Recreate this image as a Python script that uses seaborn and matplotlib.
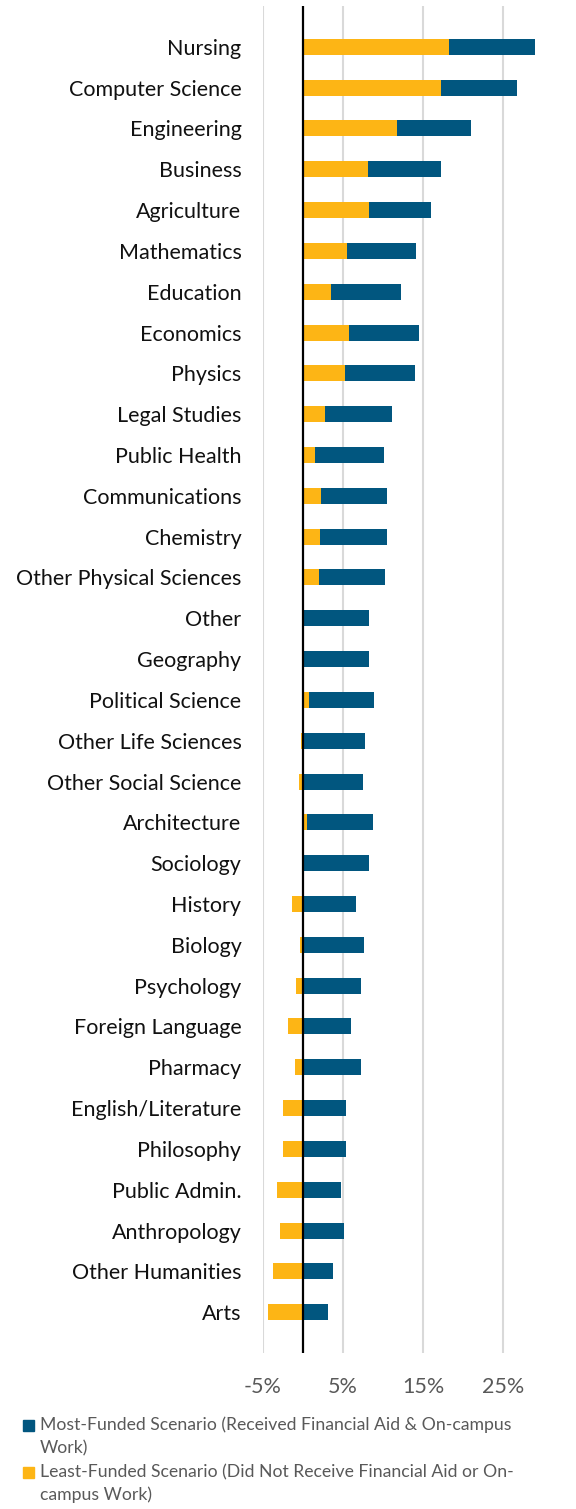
import matplotlib
matplotlib.use("Agg")
import matplotlib.pyplot as plt
import seaborn as sns
import pandas as pd
import numpy as np
from matplotlib.patches import Rectangle

majors = ["Nursing", "Computer Science", "Engineering", "Business", "Agriculture",
          "Mathematics", "Education", "Economics", "Physics", "Legal Studies",
          "Public Health", "Communications", "Chemistry", "Other Physical Sciences",
          "Other", "Geography", "Political Science", "Other Life Sciences",
          "Other Social Science", "Architecture", "Sociology", "History", "Biology",
          "Psychology", "Foreign Language", "Pharmacy", "English/Literature",
          "Philosophy", "Public Admin.", "Anthropology", "Other Humanities", "Arts"]

least_funded = [18.2, 17.2, 11.7, 8.1, 8.2, 5.5, 3.5, 5.8, 5.2, 2.75,
                1.55, 2.3, 2.1, 2.0, 0.0, -0.1, 0.7, -0.2, -0.55, 0.55,
                0.0, -1.35, -0.4, -0.9, -1.9, -0.95, -2.55, -2.55, -3.25, -2.85,
                -3.75, -4.4]

most_funded = [10.85, 9.55, 9.25, 9.15, 7.75, 8.6, 8.8, 8.65, 8.75, 8.35,
               8.55, 8.2, 8.4, 8.3, 8.2, 8.3, 8.15, 7.8, 7.5, 8.25,
               8.3, 6.6, 7.6, 7.2, 6.0, 7.3, 5.35, 5.35, 4.8, 5.1,
               3.8, 3.15]

xticks = [-5, 5, 15, 25]
xtick_labels = ["-5%", "5%", "15%", "25%"]

legend_most = ["Most-Funded Scenario (Received Financial Aid & On-campus", "Work)"]
legend_least = ["Least-Funded Scenario (Did Not Receive Financial Aid or On-", "campus Work)"]

BLUE = "#01567F"
YELLOW = "#FDB515"

df = pd.DataFrame({"major": majors, "least": least_funded, "most": most_funded})
df["stack_end"] = np.maximum(df["least"], 0) + df["most"]

sns.set_style("white")
plt.rcParams["font.family"] = ["Lato", "DejaVu Sans"]

W, H = 576, 1509
fig = plt.figure(figsize=(W / 100, H / 100), dpi=100)
ax = fig.add_axes([263 / W, (H - 1353) / H, 280 / W, 1347 / H])

sns.barplot(data=df, x="stack_end", y="major", order=majors, orient="h",
            color=BLUE, saturation=1, width=0.39, ax=ax, linewidth=0)
sns.barplot(data=df, x="least", y="major", order=majors, orient="h",
            color=YELLOW, saturation=1, width=0.39, ax=ax, linewidth=0)

ax.set_xlim(-5, 30)
ax.set_ylim(32, -1)
ax.set_xticks(xticks)
ax.set_xticklabels(xtick_labels, color="#595959", fontsize=15.5)
ax.tick_params(axis="x", length=0, pad=17)
ax.tick_params(axis="y", length=0, pad=15.5, labelsize=15.5, labelcolor="#111111")
ax.set_xlabel("")
ax.set_ylabel("")
for s in ax.spines.values():
    s.set_visible(False)
ax.grid(axis="x", color="#D9D9D9", linewidth=1.5)
ax.set_axisbelow(True)
ax.axvline(0, color="black", linewidth=1.6, zorder=5)

def fy(py):
    return 1 - py / H

entries = [(BLUE, legend_most, 1425), (YELLOW, legend_least, 1472)]
for col, lines, py in entries:
    fig.patches.append(Rectangle((23 / W, fy(py + 5.5)), 11 / W, 11 / H,
                                 transform=fig.transFigure, color=col))
    for i, line in enumerate(lines):
        fig.text(40 / W, fy(py + i * 23), line, ha="left", va="center",
                 fontsize=12.7, color="#595959")

fig.savefig("out.png", dpi=100)
